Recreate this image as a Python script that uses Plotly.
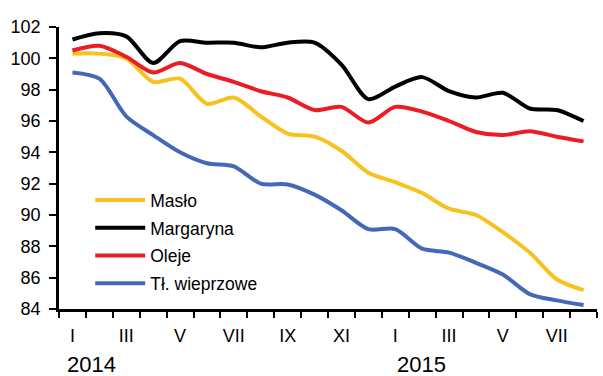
import plotly.graph_objects as go

# Monthly index (same month previous year = 100), Jan 2014 - Aug 2015
months = ["I", "II", "III", "IV", "V", "VI", "VII", "VIII", "IX", "X", "XI", "XII",
          "I", "II", "III", "IV", "V", "VI", "VII", "VIII"]
years = ["2014", "2015"]

maslo = [100.3, 100.3, 100.0, 98.5, 98.7, 97.1, 97.5, 96.3, 95.2, 95.0,
         94.1, 92.7, 92.1, 91.4, 90.4, 90.0, 88.9, 87.6, 85.9, 85.2]
margaryna = [101.2, 101.6, 101.4, 99.7, 101.1, 101.0, 101.0, 100.7, 101.0, 101.0,
             99.6, 97.4, 98.2, 98.8, 97.9, 97.5, 97.8, 96.8, 96.7, 96.0]
oleje = [100.5, 100.8, 100.1, 99.1, 99.7, 99.0, 98.5, 97.9, 97.5, 96.7,
         96.9, 95.9, 96.9, 96.6, 96.0, 95.3, 95.1, 95.35, 95.0, 94.7]
tluszcz = [99.1, 98.7, 96.3, 95.1, 94.0, 93.3, 93.1, 92.0, 91.95, 91.3,
           90.3, 89.1, 89.1, 87.85, 87.6, 86.95, 86.2, 84.95, 84.55, 84.25]

series = [
    ("Masło", maslo, "#F7C21E"),
    ("Margaryna", margaryna, "#000000"),
    ("Oleje", oleje, "#EC1C24"),
    ("Tł. wieprzowe", tluszcz, "#4468B8"),
]

x = list(range(len(months)))
font_family = "Liberation Sans, Arial, sans-serif"

fig = go.Figure()
for name, vals, color in series:
    fig.add_trace(go.Scatter(
        x=x, y=vals, name=name, mode="lines", legendgroup=name,
        line=dict(color=color, width=4, shape="spline", smoothing=0.8),
    ))

fig.update_layout(
    width=603, height=376,
    margin=dict(l=58.8, r=6.3, t=26.7, b=67, pad=0),
    paper_bgcolor="white", plot_bgcolor="white",
    font=dict(family=font_family, size=18, color="black"),
    showlegend=True,
    legend=dict(
        x=0.058, y=0.45, xanchor="left", yanchor="top",
        bgcolor="rgba(0,0,0,0)", borderwidth=0,
        font=dict(size=17.5, family=font_family),
        itemwidth=50, tracegroupgap=2,
    ),
    xaxis=dict(
        range=[-0.5, 19.5],
        tickmode="array", tickvals=x[::2], ticktext=months[::2],
        ticks="", showgrid=False, zeroline=False,
        showline=True, linecolor="black", linewidth=2.5,
        tickfont=dict(size=18), ticklabelstandoff=9,
        minor=dict(ticks="outside", tick0=-0.5, dtick=1, ticklen=6,
                   tickwidth=2, tickcolor="black", showgrid=False),
    ),
    yaxis=dict(
        range=[84, 102], dtick=2, tick0=84,
        ticks="outside", ticklen=7, tickwidth=2, tickcolor="black",
        showgrid=False, zeroline=False,
        showline=True, linecolor="black", linewidth=2.5,
        tickfont=dict(size=18), ticklabelstandoff=5,
    ),
)

# Year labels under the month axis
for label, xpos in zip(years, [-0.27, 12.0]):
    fig.add_annotation(
        x=xpos, y=-0.196, xref="x", yref="paper",
        text=label, showarrow=False, xanchor="left", yanchor="middle",
        font=dict(size=22, family=font_family),
    )

fig.write_html("out.html")
